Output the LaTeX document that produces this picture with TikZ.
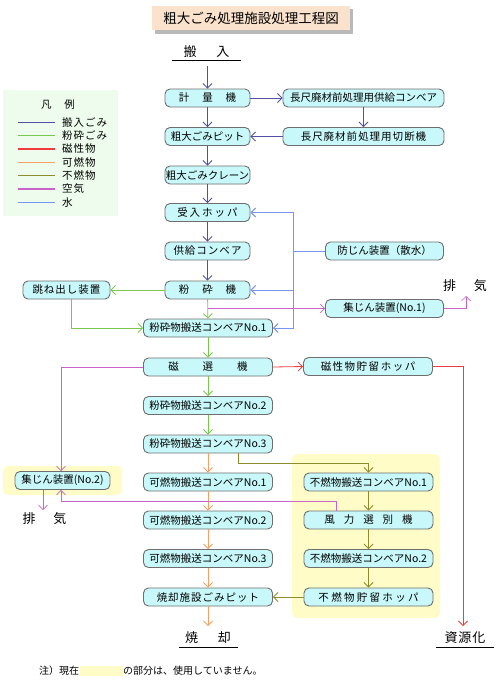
\documentclass[tikz,border=0pt]{standalone}
\usepackage{fontspec}
\setmainfont{Noto Sans CJK JP}
\usetikzlibrary{arrows.meta,calc}
\definecolor{boxfill}{RGB}{200,248,250}
\definecolor{boxline}{RGB}{110,110,110}
\definecolor{cinc}{RGB}{80,80,165}
\definecolor{cgrn}{RGB}{120,200,80}
\definecolor{cred}{RGB}{240,60,60}
\definecolor{corg}{RGB}{245,160,100}
\definecolor{coli}{RGB}{140,140,45}
\definecolor{cair}{RGB}{200,100,200}
\definecolor{cwat}{RGB}{120,150,240}
\definecolor{legbg}{RGB}{238,252,238}
\definecolor{ylw}{RGB}{255,252,200}
\definecolor{ttl}{RGB}{251,226,205}
\newcommand\kk[1]{\hspace{#1pt}}
\newcommand\bxfont{\fontsize{10.5}{12}\selectfont}
\newcommand\bigfont{\fontsize{13}{15}\selectfont}
\begin{document}
\begin{tikzpicture}[x=1pt,y=-1pt,
  >={Straight Barb[length=4.5pt,width=9pt]},
  bx/.style={draw=boxline,fill=boxfill,rounded corners=5pt,line width=0.9pt,minimum height=18pt,inner sep=0pt,font=\bxfont},
  nw/.style={minimum width=85pt},
  ww/.style={minimum width=129pt},
  lw/.style={minimum width=161pt},
  mw/.style={minimum width=118pt},
  lbl/.style={inner sep=0pt,font=\bigfont},
  con/.style={line width=0.8pt,->},
  inc/.style={con,draw=cinc},
  grn/.style={con,draw=cgrn},
  red/.style={con,draw=cred},
  org/.style={con,draw=corg},
  oli/.style={con,draw=coli},
  air/.style={con,draw=cair,line width=0.7pt},
  wat/.style={con,draw=cwat,line width=1pt},
  uline/.style={draw=black,line width=0.8pt}]
\useasboundingbox (0,0) rectangle (500,680);
% backgrounds
\fill[legbg] (3,90) rectangle (118,216);
\fill[ylw,rounded corners=5pt] (3,466) rectangle (122,495);
\fill[ylw,rounded corners=6pt] (292,454) rectangle (440,618);
% title
\fill[gray!55] (155,9) rectangle (353,34);
\node[fill=ttl,minimum width=198pt,minimum height=24pt,inner sep=0pt,font=\fontsize{13.5}{15}\selectfont] (title) at (251,18) {粗大ごみ処理施設処理工程図};
% legend
\node[lbl,font=\bxfont] (legt) at (58,105) {凡\kk{13}例};
\foreach \c/\t/\y [count=\i] in {cinc/搬\kk1入\kk1ご\kk1み/122.3, cgrn/粉\kk1砕\kk1ご\kk1み/135.6, cred/磁\kk1性\kk1物/149, corg/可\kk1燃\kk1物/162.3, coli/不\kk1燃\kk1物/175.6, cair/空\kk1気/189, cwat/水/202.3}{
  \draw[\c,line width=1.4pt] (18,\y) -- (55,\y);
  \node[lbl,font=\bxfont,anchor=west] (leg\i) at (62,\y) {\t};
}
% labels
\node[lbl] (hannyu) at (206.5,52) {搬\kk{20}入};
\draw[uline] (172,60) -- (241,60);
\coordinate (hin) at (207.5,66);
\node[lbl] (shoukyaku) at (208,638) {焼\kk{20}却};
\draw[uline] (179,647) -- (238,647);
\node[lbl] (shigen) at (465,638) {資\kk1源\kk1化};
\draw[uline] (436,647) -- (494,647);
\node[lbl] (haiki1) at (465,286) {排\kk{18}気};
\node[lbl] (haiki2) at (44.5,519) {排\kk{18}気};
\coordinate (burn) at (208,626);
\coordinate (res) at (463,626);
\coordinate (exh1) at (466,296);
\coordinate (exh2) at (43,510);
% main column
\node[bx,nw] (keiryo) at (207.5,98) {計\kk{13}量\kk{13}機};
\node[bx,nw] (pit) at (207.5,136.5) {粗大ごみピット};
\node[bx,nw] (crane) at (207.5,175) {粗大ごみクレーン};
\node[bx,nw] (ukeire) at (207.5,212.5) {受\kk2入\kk2ホ\kk2ッ\kk2パ};
\node[bx,nw] (kyokyu) at (207.5,251) {供\kk1給\kk1コ\kk1ン\kk1ベ\kk1ア};
\node[bx,nw] (funsai) at (207.5,290) {粉\kk{13}砕\kk{13}機};
\node[bx,ww] (conv1) at (208,328) {粉砕物搬送コンベアNo.1};
\node[bx,ww] (jisen) at (208,367) {磁\kk{24}選\kk{24}機};
\node[bx,ww] (conv2) at (208,405.5) {粉砕物搬送コンベアNo.2};
\node[bx,ww] (conv3) at (208,444) {粉砕物搬送コンベアNo.3};
\node[bx,ww] (kanen1) at (208,482) {可燃物搬送コンベアNo.1};
\node[bx,ww] (kanen2) at (208,520) {可燃物搬送コンベアNo.2};
\node[bx,ww] (kanen3) at (208,558.5) {可燃物搬送コンベアNo.3};
\node[bx,ww] (pit2) at (208,597) {焼\kk1却\kk1施\kk1設\kk1ご\kk1み\kk1ピ\kk1ッ\kk1ト};
% right column
\node[bx,lw] (long1) at (363.5,98) {長尺廃材前処理用供給コンベア};
\node[bx,lw] (long2) at (363.5,136.5) {長\kk1尺\kk1廃\kk1材\kk1前\kk1処\kk1理\kk1用\kk1切\kk1断\kk1機};
\node[bx,mw] (bosui) at (384.5,251) {防じん装置（散水）};
\node[bx,mw] (shujin1) at (384.5,308.5) {集じん装置(No.1)};
\node[bx,ww] (jisei) at (368,366.5) {磁\kk{1.5}性\kk{1.5}物\kk{1.5}貯\kk{1.5}留\kk{1.5}ホ\kk{1.5}ッ\kk{1.5}パ};
\node[bx,ww] (funen1) at (368.5,482) {不燃物搬送コンベアNo.1};
\node[bx,ww] (fuuryoku) at (368.5,520) {風\kk9力\kk9選\kk9別\kk9機};
\node[bx,ww] (funen2) at (368.5,558.5) {不燃物搬送コンベアNo.2};
\node[bx,ww] (hopper2) at (368.5,597) {不\kk{2.3}燃\kk{2.3}物\kk{2.3}貯\kk{2.3}留\kk{2.3}ホ\kk{2.3}ッ\kk{2.3}パ};
% left
\node[bx,minimum width=87pt] (hane) at (66.5,290) {跳\kk1ね\kk1出\kk1し\kk1装\kk1置};
\node[bx,minimum width=95pt] (shujin2) at (62.5,480.5) {集じん装置(No.2)};
% incoming
\draw[inc] (hin) -- (keiryo.north);
\draw[inc] (keiryo) -- (pit);
\draw[inc] (pit) -- (crane);
\draw[inc] (crane) -- (ukeire);
\draw[inc] (ukeire) -- (kyokyu);
\draw[inc] (kyokyu) -- (funsai);
\draw[inc] (keiryo.east) -- (long1.west);
\draw[inc] (long1) -- (long2);
\draw[inc] (long2.west) -- (pit.east);
% crushed
\draw[grn] (funsai.west) -- (hane.east);
\draw[grn] ([xshift=4.5pt]hane.south) |- (conv1.west);
\draw[grn] (funsai) -- (conv1);
\draw[grn] (conv1) -- (jisen);
\draw[grn] (jisen) -- (conv2);
\draw[grn] (conv2) -- (conv3);
% magnetic
\draw[red] (jisen.east) -- (jisei.west);
\draw[red] (jisei.east) -| (res);
% combustible
\draw[org] (conv3) -- (kanen1);
\draw[org] (kanen1) -- (kanen2);
\draw[org] (kanen2) -- (kanen3);
\draw[org] (kanen3) -- (pit2);
\draw[org] (pit2.south) -- (burn);
% non-combustible
\coordinate (fj) at (368.5,463);
\draw[oli] ([xshift=30pt]conv3.south) |- (fj) -- (funen1.north);
\draw[oli] (funen1) -- (fuuryoku);
\draw[oli] (fuuryoku) -- (funen2);
\draw[oli] (funen2) -- (hopper2);
\draw[oli] (hopper2.west) -- (pit2.east);
% water
\coordinate (wj) at (293,251);
\draw[wat,-] (bosui.west) -- (wj);
\draw[wat] (wj) |- (ukeire.east);
\draw[wat] (wj) |- (conv1.east);
\draw[wat] (wj |- funsai.east) -- (funsai.east);
% air
\coordinate (aj1) at (207.5,308.5);
\draw[air] (aj1) -- (shujin1.west);
\draw[air] (shujin1.east) -| (exh1);
\draw[air] (jisen.west) -| ([xshift=-1.5pt]shujin2.north);
\draw[air] ([xshift=-32.5pt]fuuryoku.north) -- ++(0,-9) -| ([xshift=-1.5pt]shujin2.south);
\draw[air] ([xshift=-19.5pt]shujin2.south) -- (exh2);
% footnote
\node[lbl,font=\fontsize{10}{12}\selectfont,anchor=west] (note1) at (39,671) {注）現在};
\fill[ylw] (80,666) rectangle (123,676);
\node[lbl,font=\fontsize{10}{12}\selectfont,anchor=west] (note2) at (123,671) {の部分は、使用していません。};
\end{tikzpicture}
\end{document}
